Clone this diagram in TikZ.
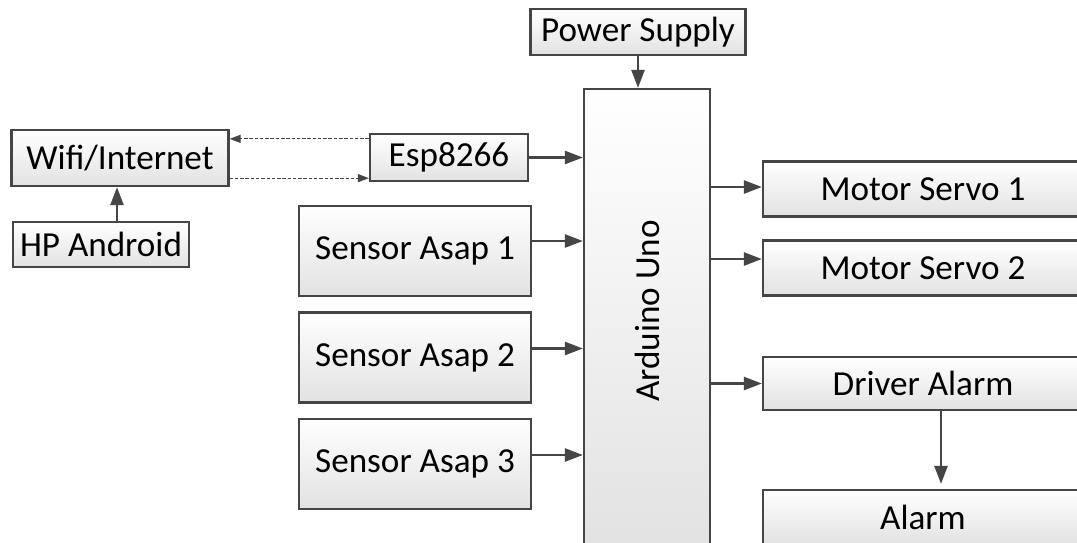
\documentclass[tikz,border=0pt]{standalone}
\usepackage{fontspec}
\setmainfont{Carlito}
\usepackage{tikz}
\usetikzlibrary{arrows.meta}
\definecolor{garis}{HTML}{454545}
\definecolor{abumuda}{HTML}{E2E2E2}

\tikzset{
  blok/.style={draw=garis, line width=1.3pt, top color=white, bottom color=abumuda,
               inner sep=0pt, font=\fontsize{20}{24}\selectfont},
  panah/.style={draw=garis, line width=1.4pt, -{Triangle[length=0.36cm, width=0.26cm]}},
  putus/.style={draw=garis, line width=0.7pt, dash pattern=on 2pt off 1pt,
                -{Triangle[length=0.22cm, width=0.16cm]}}
}

\begin{document}
\begin{tikzpicture}[x=0.02cm, y=-0.02cm]
    \useasboundingbox (0,0) rectangle (1077,542);
    \clip (0,0) rectangle (1077,542);
    \fill[white] (0,0) rectangle (1077,542);

    % blok utama
    \node[blok, minimum width=4.3cm, minimum height=0.92cm] (power) at (638,32) {Power Supply};
    \node[blok, rotate=90, minimum width=9.2cm, minimum height=2.52cm] (arduino) at (647,319) {\hspace*{0.32cm}Arduino Uno};

    % sisi kiri
    \node[blok, minimum width=3.16cm, minimum height=0.94cm] (esp) at (449,157.5) {Esp8266};
    \node[blok, minimum width=4.34cm, minimum height=1.12cm] (wifi) at (120,158) {Wifi/Internet};
    \node[blok, minimum width=3.52cm, minimum height=0.9cm] (hp) at (101,244.5) {HP Android};
    \node[blok, minimum width=4.64cm, minimum height=1.8cm] (sensora) at (415,251) {Sensor Asap 1};
    \node[blok, minimum width=4.64cm, minimum height=1.8cm] (sensorb) at (415,357.5) {Sensor Asap 2};
    \node[blok, minimum width=4.64cm, minimum height=1.8cm] (sensorc) at (415,464) {Sensor Asap 3};

    % sisi kanan
    \node[blok, minimum width=6.4cm, minimum height=1.1cm] (servoa) at (923,189) {Motor Servo 1};
    \node[blok, minimum width=6.4cm, minimum height=1.1cm] (servob) at (923,268) {Motor Servo 2};
    \node[blok, minimum width=6.4cm, minimum height=1.06cm] (driver) at (923,383.5) {Driver Alarm};
    \node[blok, minimum width=6.4cm, minimum height=1.1cm] (alarm) at (923,517.5) {Alarm};

    % panah
    \draw[panah] (power.south) -- (power.south |- arduino.east);
    \draw[panah] (esp.east) -- (esp.east -| arduino.north);
    \draw[panah] ([yshift=0.2cm]sensora.east) -- ([yshift=0.2cm]sensora.east -| arduino.north);
    \draw[panah] ([yshift=0.18cm]sensorb.east) -- ([yshift=0.18cm]sensorb.east -| arduino.north);
    \draw[panah] ([yshift=0.18cm]sensorc.east) -- ([yshift=0.18cm]sensorc.east -| arduino.north);
    \draw[panah] ([yshift=0.04cm]servoa.west -| arduino.south) -- ([yshift=0.04cm]servoa.west);
    \draw[panah] ([yshift=0.18cm]servob.west -| arduino.south) -- ([yshift=0.18cm]servob.west);
    \draw[panah] (driver.west -| arduino.south) -- (driver.west);
    \draw[panah, shorten >=0.1cm] (driver.south -| 941,0) -- (alarm.north -| 941,0);
    \draw[panah] (hp.north -| 117,0) -- (wifi.south -| 117,0);
    \draw[putus] ([yshift=-0.12cm]esp.north west) -- ([yshift=-0.12cm]esp.north west -| wifi.east);
    \draw[putus] ([yshift=0.08cm]esp.south west -| wifi.east) -- ([yshift=0.08cm]esp.south west);
  \end{tikzpicture}
\end{document}
